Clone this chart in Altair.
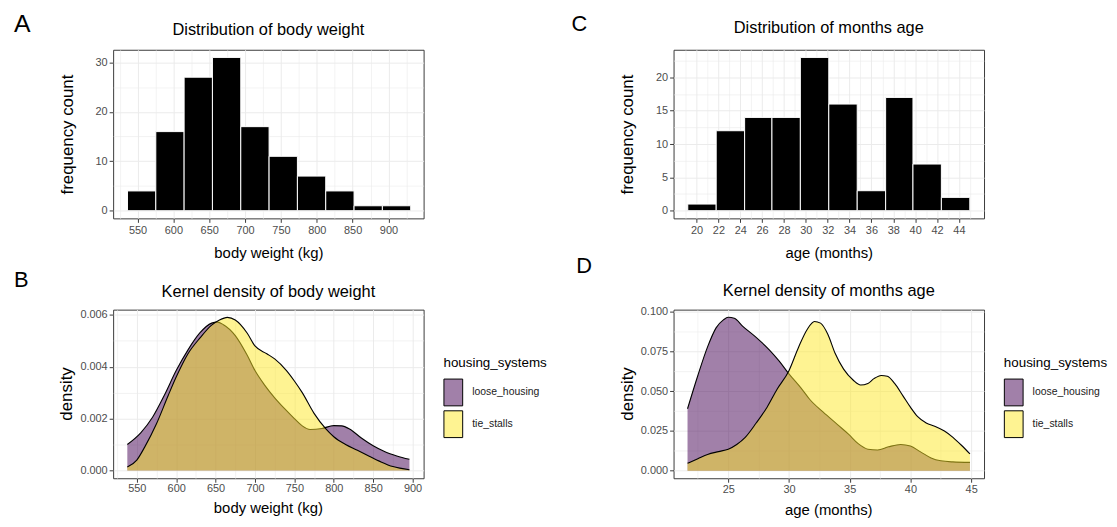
import altair as alt
import pandas as pd

FONT = "Liberation Sans"

# ---------------- Panel A : body weight histogram ----------------
weight_bin_edges = [536, 575.5, 615, 654.5, 694, 733.5, 773, 812.5, 852, 891.5, 931]
weight_counts = [4, 16, 27, 31, 17, 11, 7, 4, 1, 1]
weight_ticks = [550, 600, 650, 700, 750, 800, 850, 900]
weight_minor = [525, 575, 625, 675, 725, 775, 825, 875, 925]
countA_ticks = [0, 10, 20, 30]
countA_minor = [5, 15, 25]

# ---------------- Panel C : age histogram ----------------
age_bin_edges = [19.2, 21.8, 24.4, 26.9, 29.5, 32.1, 34.7, 37.3, 39.8, 42.4, 45.0]
age_counts = [1, 12, 14, 14, 23, 16, 3, 17, 7, 2]
ageC_ticks = [20, 22, 24, 26, 28, 30, 32, 34, 36, 38, 40, 42, 44]
ageC_minor = [19, 21, 23, 25, 27, 29, 31, 33, 35, 37, 39, 41, 43, 45]
countC_ticks = [0, 5, 10, 15, 20]
countC_minor = [2.5, 7.5, 12.5, 17.5, 22.5]

# ---------------- Panel B : body weight density ----------------
groups = ["loose_housing", "tie_stalls"]
bw_loose_x = [538, 555, 570, 585, 600, 615, 630, 645, 652, 660, 675, 690, 700, 712, 725, 737,
              750, 760, 770, 785, 800, 810, 820, 835, 850, 865, 880, 896]
bw_loose_y = [0.00100, 0.00145, 0.00205, 0.00290, 0.00385, 0.00465, 0.00530, 0.00568, 0.00572,
              0.00562, 0.00520, 0.00445, 0.00385, 0.00330, 0.00280, 0.00240, 0.00200, 0.00172,
              0.00158, 0.00162, 0.00173, 0.00172, 0.00160, 0.00125, 0.00095, 0.00072, 0.00056,
              0.00043]
bw_tie_x = [538, 550, 560, 575, 590, 600, 615, 630, 645, 655, 665, 675, 690, 700, 715, 725, 740,
            750, 760, 775, 790, 800, 815, 830, 845, 860, 875, 896]
bw_tie_y = [0.00013, 0.00040, 0.00090, 0.00180, 0.00290, 0.00360, 0.00450, 0.00510, 0.00560,
            0.00580, 0.00590, 0.00580, 0.00530, 0.00480, 0.00450, 0.00430, 0.00385, 0.00345,
            0.00300, 0.00220, 0.00160, 0.00130, 0.00100, 0.00078, 0.00055, 0.00033, 0.00015,
            0.00003]
bwB_ticks = [550, 600, 650, 700, 750, 800, 850, 900]
bwB_minor = [525, 575, 625, 675, 725, 775, 825, 875]
densB_ticks = [0, 0.002, 0.004, 0.006]
densB_minor = [0.001, 0.003, 0.005]

# ---------------- Panel D : age density ----------------
age_loose_x = [21.65, 22.5, 23.3, 24.0, 24.6, 25.0, 25.5, 26.2, 27.3, 28.4, 29.2, 30.0, 31.0,
               31.7, 32.8, 34.0, 34.9, 35.7, 36.5, 37.3, 38.2, 39.2, 40.0, 40.8, 41.7, 42.5,
               43.5, 44.9]
age_loose_y = [0.039, 0.060, 0.078, 0.090, 0.095, 0.0967, 0.096, 0.091, 0.084, 0.076, 0.069,
               0.061, 0.052, 0.045, 0.037, 0.029, 0.023, 0.017, 0.0135, 0.013, 0.015, 0.0165,
               0.0155, 0.012, 0.008, 0.0062, 0.0055, 0.0052]
age_tie_x = [21.65, 22.5, 23.3, 24.2, 25.0, 25.7, 26.4, 27.3, 28.2, 29.0, 30.0, 30.8, 31.5,
             32.1, 32.6, 33.2, 33.8, 34.5, 35.3, 35.9, 36.5, 37.0, 37.6, 38.1, 38.7, 39.4,
             40.0, 40.6, 41.3, 42.0, 42.8, 43.5, 44.2, 44.9]
age_tie_y = [0.0046, 0.0075, 0.0102, 0.0120, 0.0135, 0.0165, 0.021, 0.030, 0.040, 0.051,
             0.063, 0.078, 0.089, 0.094, 0.093, 0.086, 0.074, 0.064, 0.057, 0.054, 0.055,
             0.058, 0.060, 0.0595, 0.055, 0.047, 0.040, 0.034, 0.030, 0.028, 0.025, 0.021,
             0.016, 0.0105]
ageD_ticks = [25, 30, 35, 40, 45]
ageD_minor = [22.5, 27.5, 32.5, 37.5, 42.5]
densD_ticks = [0, 0.025, 0.05, 0.075, 0.1]
densD_minor = [0.0125, 0.0375, 0.0625, 0.0875]

W, H = 313, 170
GRID = "#ebebeb"
FILL_COLORS = ["#440154", "#FDE725"]      # drawn at 50% opacity
KEY_COLORS = ["#a180a9", "#fef392"]       # same colours at 50% on white, for the legend keys


def major_test(ticks):
    return "indexof([" + ",".join(repr(t) for t in ticks) + "], datum.value) >= 0"


def grid_axis(ticks, minor, fmt, **kw):
    test = major_test(ticks)
    return alt.Axis(
        values=sorted(ticks + minor), format=fmt,
        labelExpr="(" + test + ") ? datum.label : ''",
        tickOpacity={"condition": {"test": test, "value": 1}, "value": 0},
        gridWidth={"condition": {"test": test, "value": 1}, "value": 0.6},
        titleFontWeight="normal", **kw)


def xaxis(title, ticks, minor, fmt, title_y, label_pad):
    return grid_axis(ticks, minor, fmt, title=title, titleY=title_y, titleBaseline="top",
                     titleFontSize=15, labelPadding=label_pad)


def yaxis(title, ticks, minor, fmt):
    return grid_axis(ticks, minor, fmt, title=title, titleX=-37, titleBaseline="bottom",
                     titleFontSize=17)


def text_layer(s, size, x, y, align="center", baseline="alphabetic", angle=0):
    return alt.Chart(pd.DataFrame({"t": [s]})).mark_text(
        fontSize=size, align=align, baseline=baseline, color="black", angle=angle,
        font=FONT, fontWeight="normal"
    ).encode(text="t:N", x=alt.value(x), y=alt.value(y))


def decorations(title, letter, title_y, letter_x, letter_y, letter_size):
    t = text_layer(title, 16.5, W / 2, title_y)
    l = text_layer(letter, letter_size, letter_x, letter_y, align="left")
    return t, l


def hist_panel(edges, counts, xdom, ydom, xticks, xminor, yticks, yminor, xtitle, title,
               letter, title_y, lx, ly, lsize, xtitle_y, label_pad):
    df = pd.DataFrame({"start": edges[:-1], "end": edges[1:], "count": counts})
    xs = alt.Scale(domain=xdom, nice=False, zero=False)
    ys = alt.Scale(domain=ydom, nice=False, zero=False)
    bars = alt.Chart(df).mark_bar(color="black", stroke="white", strokeWidth=1).encode(
        x=alt.X("start:Q", scale=xs, axis=xaxis(xtitle, xticks, xminor, "d", xtitle_y, label_pad)),
        x2="end:Q",
        y=alt.Y("count:Q", scale=ys, axis=yaxis("frequency count", yticks, yminor, "d")),
        y2=alt.datum(0),
    )
    t, l = decorations(title, letter, title_y, lx, ly, lsize)
    return alt.layer(bars, t, l).properties(width=W, height=H)


def density_panel(lx_vals, ly_vals, tx_vals, ty_vals, xdom, ydom, xticks, xminor, yticks,
                  yminor, xtitle, title, letter, title_y, lx, ly, lsize, xtitle_y, xfmt,
                  label_pad):
    df = pd.DataFrame({
        "x": lx_vals + tx_vals,
        "y": ly_vals + ty_vals,
        "housing_systems": [groups[0]] * len(lx_vals) + [groups[1]] * len(tx_vals),
    })
    xs = alt.Scale(domain=xdom, nice=False, zero=False)
    ys = alt.Scale(domain=ydom, nice=False, zero=False)
    xax = xaxis(None, xticks, xminor, xfmt, xtitle_y, label_pad)
    yax = yaxis(None, yticks, yminor, ".3f")
    base = alt.Chart(df)
    fill = alt.Fill("housing_systems:N", scale=alt.Scale(range=FILL_COLORS), legend=None)
    layers = []
    first = True
    for g in groups:
        sub = base.transform_filter(alt.datum.housing_systems == g)
        for kind in ("area", "line"):
            enc = dict(
                x=alt.X("x:Q", scale=xs, axis=xax if first else None),
                y=alt.Y("y:Q", scale=ys, axis=yax if first else None),
            )
            first = False
            if kind == "area":
                layers.append(sub.mark_area(fillOpacity=0.5, interpolate="monotone")
                              .encode(fill=fill, **enc))
            else:
                layers.append(sub.mark_line(color="black", strokeWidth=1.1, interpolate="monotone")
                              .encode(**enc))
    # legend keys (zero-size marks, legend only)
    legend = alt.Legend(
        title="housing_systems", orient="none", legendX=333, legendY=47,
        symbolType="M-1,-1H0.4V1H-1Z", symbolSize=729, rowPadding=0,
        titlePadding=9, labelOffset=1, padding=0,
        symbolStrokeColor="black", symbolStrokeWidth=1, symbolOpacity=1,
    )
    key = alt.Chart(pd.DataFrame({"housing_systems": groups})).mark_square(
        size=0, opacity=1
    ).encode(color=alt.Color("housing_systems:N",
                             scale=alt.Scale(domain=groups, range=KEY_COLORS), legend=legend))
    layers.append(key)
    t, l = decorations(title, letter, title_y, lx, ly, lsize)
    xt = text_layer(xtitle, 15, W / 2, H + xtitle_y, baseline="top")
    yt = text_layer("density", 17, -37, H / 2, baseline="bottom", angle=270)
    layers += [t, l, xt, yt]
    return alt.layer(*layers).resolve_axis(x="independent", y="independent").properties(
        width=W, height=H)


A = hist_panel(weight_bin_edges, weight_counts, [516, 949], [-1.55, 32.55], weight_ticks,
               weight_minor, countA_ticks, countA_minor, "body weight (kg)",
               "Distribution of body weight", "A", -15, -100, -18, 25, 27, 2)
C = hist_panel(age_bin_edges, age_counts, [17.9, 46.3], [-1.15, 24.15], ageC_ticks,
               ageC_minor, countC_ticks, countC_minor, "age (months)",
               "Distribution of months age", "C", -17, -103, -19, 22, 27, 2)
B = density_panel(bw_loose_x, bw_loose_y, bw_tie_x, bw_tie_y, [520, 914], [-0.0003, 0.0062],
                  bwB_ticks, bwB_minor, densB_ticks, densB_minor, "body weight (kg)",
                  "Kernel density of body weight", "B", -13, -100, -23, 22, 23, "d", 0)
D = density_panel(age_loose_x, age_loose_y, age_tie_x, age_tie_y, [20.5, 46.06],
                  [-0.0048, 0.1015], ageD_ticks, ageD_minor, densD_ticks, densD_minor,
                  "age (months)", "Kernel density of months age", "D", -14, -98, -37, 22, 25,
                  "d", 1)

chart = alt.concat(
    A, C, B, D, columns=2, spacing=alt.RowColnumber(row=92, column=252), bounds="flush"
).resolve_scale(
    color="independent", fill="independent"
).resolve_legend(
    color="independent", fill="independent"
).properties(
    padding={"left": 5, "top": 1, "right": 0, "bottom": 0}
).configure(
    font=FONT
).configure_view(
    stroke="#3a3a3a", strokeWidth=1
).configure_axis(
    labelFont=FONT, titleFont=FONT, labelFontSize=11, labelColor="#4d4d4d",
    titleColor="black", titleFontWeight="normal",
    tickColor="#3a3a3a", tickSize=4, tickWidth=1, domain=False,
    grid=True, gridColor=GRID, labelPadding=2,
).configure_legend(
    titleFont=FONT, labelFont=FONT, titleFontSize=13.5, titleFontWeight="normal",
    titleColor="black", labelFontSize=10.5, labelColor="#1a1a1a",
)

chart.save("out.html", embed_options={"renderer": "svg", "actions": False})
